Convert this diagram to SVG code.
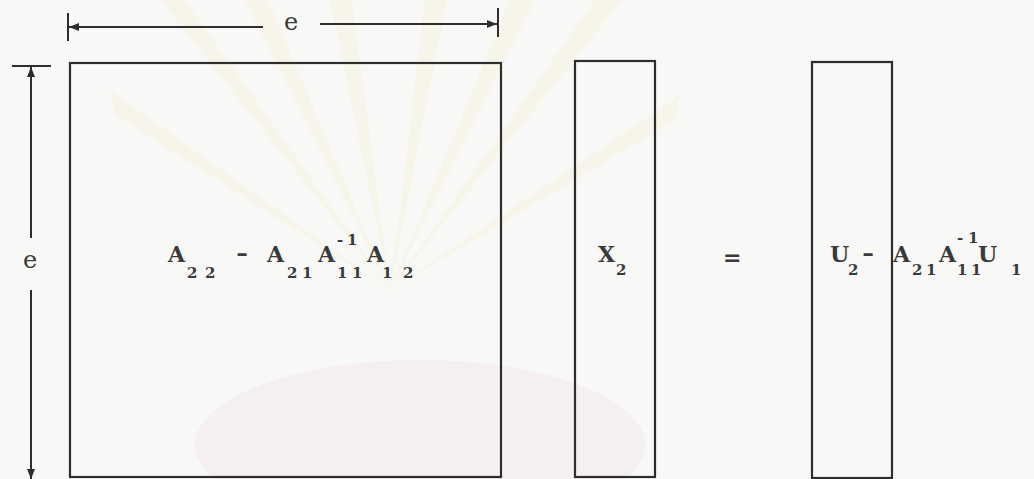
<svg xmlns="http://www.w3.org/2000/svg" width="1034" height="479" viewBox="0 0 1034 479">
<defs>
<style>
.ln{stroke:#2e2e2e;stroke-width:2;fill:none}
.bx{stroke:#2e2e2e;stroke-width:2.2;fill:none}
.t{font-family:"DejaVu Serif","Liberation Serif",serif;font-weight:bold;fill:#3a3a3a;font-size:22px}
.d{font-family:"DejaVu Serif","Liberation Serif",serif;fill:#3a3a3a;font-size:36px}
.s{font-family:"DejaVu Serif","Liberation Serif",serif;font-weight:bold;fill:#3a3a3a;font-size:15px}
.e{font-family:"DejaVu Serif","Liberation Serif",serif;fill:#3a3a3a;font-size:24px}
.ray{fill:#efe3a8;opacity:0.15}
</style>
<marker id="ah" viewBox="0 0 10 10" refX="10" refY="5" markerWidth="10" markerHeight="8" orient="auto-start-reverse" markerUnits="userSpaceOnUse" preserveAspectRatio="none">
<path d="M0,0 L10,5 L0,10 z" fill="#2e2e2e"/>
</marker>
</defs>
<rect width="1034" height="479" fill="#f8f8f6"/>
<g id="watermark">
<polygon class="ray" points="390,290 160,0 185,0"/>
<polygon class="ray" points="390,290 245,0 268,0"/>
<polygon class="ray" points="390,290 330,0 352,0"/>
<polygon class="ray" points="390,290 425,0 447,0"/>
<polygon class="ray" points="390,290 510,0 535,0"/>
<polygon class="ray" points="390,290 595,0 622,0"/>
<polygon class="ray" points="390,290 110,90 115,115"/>
<polygon class="ray" points="390,290 680,95 675,120"/>
<ellipse cx="420" cy="445" rx="225" ry="85" fill="#f4e4ea" opacity="0.45"/>
</g>
<g id="connectors">
<line class="ln" x1="68" y1="13" x2="68" y2="41"/>
<line class="ln" x1="498" y1="8" x2="498" y2="37"/>
<line class="ln" x1="69" y1="27" x2="263" y2="27" marker-start="url(#ah)"/>
<line class="ln" x1="320" y1="24" x2="497" y2="24" marker-end="url(#ah)"/>
<line class="ln" x1="12" y1="66" x2="51" y2="66"/>
<line class="ln" x1="31" y1="238" x2="31" y2="67" marker-end="url(#ah)"/>
<line class="ln" x1="31" y1="290" x2="31" y2="479" marker-end="url(#ah)"/>
</g>
<g id="dim-top-label"><text class="e" x="284" y="30">e</text></g>
<g id="dim-left-label"><text class="e" x="23" y="268">e</text></g>
<g id="matrix-schur">
<rect class="bx" x="70" y="63" width="431" height="414"/>
<text class="t" x="168" y="262">A</text>
<text class="s" x="187 205" y="278">22</text>
<text class="d" x="236" y="264">-</text>
<text class="t" x="267" y="262">A</text>
<text class="s" x="287 302" y="278">21</text>
<text class="t" x="318" y="262">A</text>
<text class="s" x="337 347" y="245">-1</text>
<text class="s" x="337 352" y="278">11</text>
<text class="t" x="367" y="262">A</text>
<text class="s" x="382 403" y="278">12</text>
</g>
<g id="vector-x2">
<rect class="bx" x="575" y="61" width="80" height="416"/>
<text class="t" x="598" y="262">X</text>
<text class="s" x="616" y="275">2</text>
</g>
<g id="equals"><text class="t" x="723" y="265">=</text></g>
<g id="vector-rhs">
<rect class="bx" x="812" y="62" width="80" height="416"/>
<text class="t" x="830" y="262">U</text>
<text class="s" x="848" y="275">2</text>
<text class="d" x="862" y="264">-</text>
<text class="t" x="893" y="262">A</text>
<text class="s" x="912 926" y="275">21</text>
<text class="t" x="939" y="262">A</text>
<text class="s" x="957 968" y="243">-1</text>
<text class="s" x="957 971" y="275">11</text>
<text class="t" x="978" y="262">U</text>
<text class="s" x="1011" y="275">1</text>
</g>
</svg>
